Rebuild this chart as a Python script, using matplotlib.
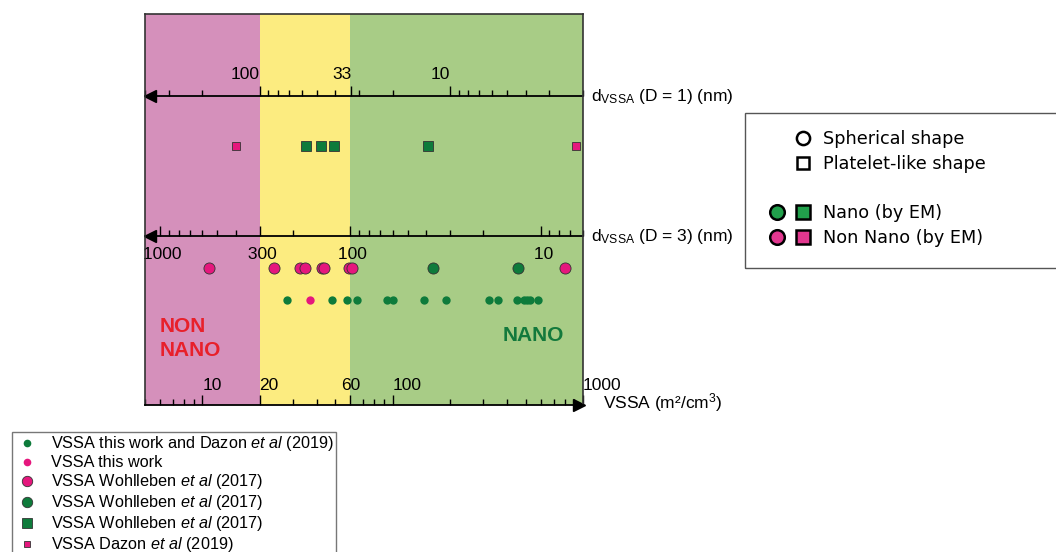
import numpy as np
import matplotlib.pyplot as plt
from matplotlib.lines import Line2D
from matplotlib.legend_handler import HandlerTuple
from matplotlib.patches import Rectangle
from matplotlib.ticker import NullFormatter

plt.rcParams['font.family'] = ['Liberation Sans', 'DejaVu Sans']
plt.rcParams['mathtext.fontset'] = 'custom'
plt.rcParams['mathtext.rm'] = 'Liberation Sans'
plt.rcParams['mathtext.it'] = 'Liberation Sans:italic'
plt.rcParams['mathtext.bf'] = 'Liberation Sans:bold'

# -----------------------------
# data (VSSA, m2/cm3)
# -----------------------------
sq_pink_vssa = [15, 920]                     # Dazon et al (2019), platelets
sq_green_vssa = [35, 42, 49, 153]            # Wohlleben et al (2017), platelets
big_pink_vssa = [10.8, 23.8, 32.5, 34.8, 42.3, 43.6, 58.9, 60.8, 800]
big_green_vssa = [162, 458]
dot_green_vssa = [28.0, 47.9, 57.7, 64.9, 93.3, 100.7, 145.6, 190,
                  321, 357, 449, 487, 507, 528, 577]
dot_pink_vssa = [36.7]

vssa_ticks = [10, 20, 60, 100, 1000]
d1_ticks = [100, 33, 10]
d3_ticks = [1000, 300, 100, 10]

# region limits
limits = [5, 20, 60, 1000]

# colours
PINK_BG = '#D590BB'
YELLOW_BG = '#FCEC80'
GREEN_BG = '#A8CC86'
PINK = '#E5177D'
GREEN = '#0E7B3B'
EDGE = '#333333'

# rows (axes fraction)
ROW_SQ = 0.662
ROW_BIG = 0.350
ROW_DOT = 0.269
Y_D1 = 0.790
Y_D3 = 0.432

# -----------------------------
# figure
# -----------------------------
fig = plt.figure(figsize=(10.56, 5.52), dpi=100)
ax = fig.add_axes([145/1056, 147/552, 438/1056, 391/552])
ax.set_xscale('log')
ax.set_xlim(limits[0], limits[-1])
ax.set_ylim(0, 1)
ax.set_yticks([])

ax.axvspan(limits[0], limits[1], color=PINK_BG, lw=0, zorder=0)
ax.axvspan(limits[1], limits[2], color=YELLOW_BG, lw=0, zorder=0)
ax.axvspan(limits[2], limits[3], color=GREEN_BG, lw=0, zorder=0)

# points
ax.plot(sq_pink_vssa, [ROW_SQ]*len(sq_pink_vssa), 's', ms=5.5, mfc=PINK, mec=EDGE, mew=0.6)
ax.plot(sq_green_vssa, [ROW_SQ]*len(sq_green_vssa), 's', ms=7.5, mfc=GREEN, mec=EDGE, mew=0.6)
ax.plot(big_pink_vssa, [ROW_BIG]*len(big_pink_vssa), 'o', ms=8, mfc=PINK, mec=EDGE, mew=0.6)
ax.plot(big_green_vssa, [ROW_BIG]*len(big_green_vssa), 'o', ms=8, mfc=GREEN, mec=EDGE, mew=0.6)
ax.plot(dot_green_vssa, [ROW_DOT]*len(dot_green_vssa), 'o', ms=6, mfc=GREEN, mec='none')
ax.plot(dot_pink_vssa, [ROW_DOT]*len(dot_pink_vssa), 'o', ms=6, mfc=PINK, mec='none')

# box
for s in ['left', 'top', 'right']:
    ax.spines[s].set_color(EDGE)
    ax.spines[s].set_linewidth(1.2)
ax.spines['bottom'].set_linewidth(1.3)

# bottom VSSA axis: ticks and labels inside
ax.set_xticks(vssa_ticks, labels=[str(t) for t in vssa_ticks])
ax.xaxis.set_minor_formatter(NullFormatter())
ax.tick_params(axis='x', which='both', direction='in', pad=-19.5, labelsize=12.5, width=1)
ax.tick_params(axis='x', which='major', length=7)
ax.tick_params(axis='x', which='minor', length=4)
for lab, t in zip(ax.get_xticklabels(), vssa_ticks):
    lab.set_ha('center' if t == 60 else 'left')

# d_VSSA (D = 1) axis
sec1 = ax.secondary_xaxis(Y_D1, functions=(lambda v: 2000/np.asarray(v, float),
                                           lambda d: 2000/np.asarray(d, float)))
sec1.set_xticks(d1_ticks, labels=[str(t) for t in d1_ticks])
sec1.xaxis.set_minor_formatter(NullFormatter())
sec1.tick_params(axis='x', which='both', direction='out', pad=3.3, labelsize=12.5, width=1)
sec1.tick_params(axis='x', which='major', length=7)
sec1.tick_params(axis='x', which='minor', length=4)
sec1.spines['top'].set_linewidth(1.3)
for lab in sec1.get_xticklabels():
    lab.set_ha('right')

# d_VSSA (D = 3) axis
sec3 = ax.secondary_xaxis(Y_D3, functions=(lambda v: 6000/np.asarray(v, float),
                                           lambda d: 6000/np.asarray(d, float)))
sec3.set_xticks(d3_ticks, labels=[' ' + str(t) for t in d3_ticks])
sec3.xaxis.set_minor_formatter(NullFormatter())
sec3.tick_params(axis='x', which='both', direction='in', pad=7.5, labelsize=12.5, width=1)
sec3.tick_params(axis='x', which='major', length=7)
sec3.tick_params(axis='x', which='minor', length=4)
sec3.spines['bottom'].set_linewidth(1.3)

# arrow heads
ax.plot([0.011], [Y_D1], marker='<', ms=8, color='black', transform=ax.transAxes, clip_on=False)
ax.plot([0.011], [Y_D3], marker='<', ms=8, color='black', transform=ax.transAxes, clip_on=False)
ax.plot([0.991], [0.0], marker='>', ms=8, color='black', transform=ax.transAxes, clip_on=False)

# axis names
ax.text(1.018, Y_D1, r'd$_{\mathrm{VSSA}}$ (D = 1) (nm)', transform=ax.transAxes,
        va='center', ha='left', fontsize=12.5)
ax.text(1.018, Y_D3, r'd$_{\mathrm{VSSA}}$ (D = 3) (nm)', transform=ax.transAxes,
        va='center', ha='left', fontsize=12.5)
ax.text(1.046, 0.005, r'VSSA (m²/cm$^{3}$)', transform=ax.transAxes,
        va='center', ha='left', fontsize=12.5)

# region names
ax.text(0.034, 0.170, 'NON\nNANO', transform=ax.transAxes, ha='left', va='center',
        color='#E8202A', fontsize=15, fontweight='bold', linespacing=1.35)
ax.text(0.8155, 0.179, 'NANO', transform=ax.transAxes, ha='left', va='center',
        color='#13793C', fontsize=15, fontweight='bold')

# -----------------------------
# legend, lower left
# -----------------------------
h_left = [
    Line2D([], [], ls='none', marker='o', ms=5.5, mfc=GREEN, mec='none'),
    Line2D([], [], ls='none', marker='o', ms=5.5, mfc=PINK, mec='none'),
    Line2D([], [], ls='none', marker='o', ms=7.5, mfc=PINK, mec=EDGE, mew=0.6),
    Line2D([], [], ls='none', marker='o', ms=7.5, mfc=GREEN, mec=EDGE, mew=0.6),
    Line2D([], [], ls='none', marker='s', ms=6.5, mfc=GREEN, mec=EDGE, mew=0.6),
    Line2D([], [], ls='none', marker='s', ms=5, mfc=PINK, mec=EDGE, mew=0.6),
]
l_left = [
    r'VSSA this work and Dazon $\mathit{et\ al}$ (2019)',
    'VSSA this work',
    r'VSSA Wohlleben $\mathit{et\ al}$ (2017)',
    r'VSSA Wohlleben $\mathit{et\ al}$ (2017)',
    r'VSSA Wohlleben $\mathit{et\ al}$ (2017)',
    r'VSSA Dazon $\mathit{et\ al}$ (2019)',
]
leg1 = fig.legend(h_left, l_left, loc='upper left', bbox_to_anchor=(12/1056, 1 - 432/552),
                  borderaxespad=0, borderpad=0.15, handlelength=1.5, handletextpad=0.74,
                  labelspacing=0.12, fontsize=11.7, fancybox=False, edgecolor='#777777',
                  framealpha=1)
leg1.get_frame().set_linewidth(1)

# -----------------------------
# legend, right
# -----------------------------
fig.patches.append(Rectangle((745/1056, 1 - 268/552), 0.32, 155/552, transform=fig.transFigure,
                             fill=False, edgecolor='#555555', lw=1))
blank = Line2D([], [], ls='none', marker='')
h_right = [
    (blank, Line2D([], [], ls='none', marker='o', ms=9.5, mfc='white', mec='black', mew=1.8)),
    (blank, Line2D([], [], ls='none', marker='s', ms=9, mfc='white', mec='black', mew=1.8)),
    (blank, blank),
    (Line2D([], [], ls='none', marker='o', ms=10.5, mfc='#21A04B', mec='black', mew=1.8),
     Line2D([], [], ls='none', marker='s', ms=9.5, mfc='#21A04B', mec='black', mew=1.8)),
    (Line2D([], [], ls='none', marker='o', ms=10.5, mfc='#E2378F', mec='black', mew=1.8),
     Line2D([], [], ls='none', marker='s', ms=9.5, mfc='#E2378F', mec='black', mew=1.8)),
]
l_right = ['Spherical shape', 'Platelet-like shape', ' ', 'Nano (by EM)', 'Non Nano (by EM)']
fig.legend(h_right, l_right, loc='upper left', bbox_to_anchor=(767/1056, 1 - 130/552),
           frameon=False, handler_map={tuple: HandlerTuple(ndivide=None, pad=0.3)},
           handlelength=2.6, handletextpad=0.55, labelspacing=0.38, borderpad=0,
           borderaxespad=0, prop={'family': 'DejaVu Sans', 'size': 12.7})

fig.savefig('out.png', dpi=100)
